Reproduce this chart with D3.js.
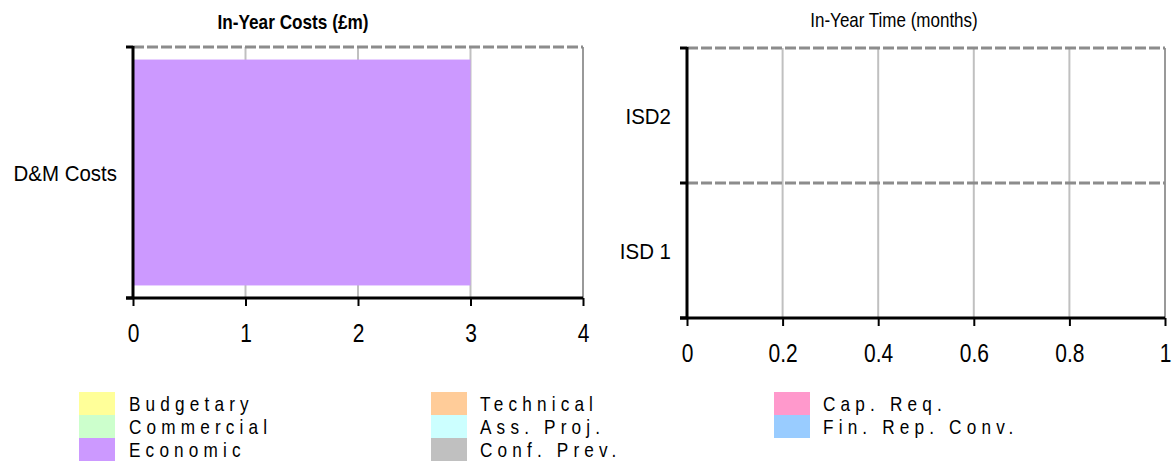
<!DOCTYPE html>
<html>
<head>
<meta charset="utf-8">
<script src="https://d3js.org/d3.v7.min.js"></script>
<style>
  body { margin: 0; background: #fff; }
  text { font-family: "Liberation Sans", Arial, sans-serif; fill: #000; }
</style>
</head>
<body>
<svg width="1174" height="462"></svg>
<script>
// ---- data ----
var costCategories = ["D&M Costs"];
var costValues = [3];
var costTicks = [0, 1, 2, 3, 4];

var timeCategories = ["ISD2", "ISD 1"];
var timeValues = [0, 0];
var timeTicks = [0, 0.2, 0.4, 0.6, 0.8, 1];

var legendNames = ["Budgetary", "Commercial", "Economic", "Technical", "Ass. Proj.", "Conf. Prev.", "Cap. Req.", "Fin. Rep. Conv."];
var legendColors = ["#FFFF99", "#CCFFCC", "#CC99FF", "#FFCC99", "#CCFFFF", "#C0C0C0", "#FF99CC", "#99CCFF"];

var svg = d3.select("svg");

// squeeze text horizontally (narrow face look)
function narrowText(g, x, y, str, size, anchor, weight, sx) {
  return g.append("text")
    .attr("transform", "translate(" + x + "," + y + ") scale(" + sx + ",1)")
    .attr("text-anchor", anchor)
    .style("font-size", size + "px")
    .style("font-weight", weight || "normal")
    .text(str);
}

function drawPanel(opt) {
  var g = svg.append("g");
  var x = d3.scaleLinear().domain(opt.domain).range([opt.left, opt.right]);
  var y = d3.scaleBand().domain(opt.cats).range([opt.top, opt.bottom])
    .paddingInner(0.1).paddingOuter(0.05);
  var step = (opt.bottom - opt.top) / opt.cats.length;

  // vertical gridlines
  g.selectAll(".grid").data(opt.ticks.slice(1, -1)).enter().append("line")
    .attr("x1", function(d) { return x(d); }).attr("x2", function(d) { return x(d); })
    .attr("y1", opt.top).attr("y2", opt.bottom)
    .attr("stroke", "#c0c0c0").attr("stroke-width", 2);

  // right border
  g.append("line")
    .attr("x1", x(opt.domain[1])).attr("x2", x(opt.domain[1]))
    .attr("y1", opt.top).attr("y2", opt.bottom)
    .attr("stroke", "#999").attr("stroke-width", 2);

  // bars
  g.selectAll(".bar").data(opt.values).enter().append("rect")
    .attr("x", x(0))
    .attr("y", function(d, i) { return y(opt.cats[i]); })
    .attr("width", function(d) { return x(d) - x(0); })
    .attr("height", y.bandwidth())
    .attr("fill", opt.color);

  // dashed category separators
  var seps = d3.range(opt.cats.length).map(function(i) { return opt.top + i * step; });
  g.selectAll(".sep").data(seps).enter().append("line")
    .attr("x1", opt.left).attr("x2", opt.right)
    .attr("y1", function(d) { return d; }).attr("y2", function(d) { return d; })
    .attr("stroke", "#8c8c8c").attr("stroke-width", 3)
    .attr("stroke-dasharray", "11,3");

  // x axis
  var xa = g.append("g").attr("transform", "translate(0," + opt.bottom + ")")
    .call(d3.axisBottom(x).tickValues(opt.ticks).tickSize(8).tickFormat(d3.format("")));
  xa.select(".domain").attr("stroke-width", 3).attr("d", "M" + (opt.left - 7) + ",0H" + opt.right);
  xa.selectAll(".tick line").attr("stroke-width", 2);
  xa.selectAll(".tick text").remove();
  xa.selectAll(".tick").each(function(d) {
    narrowText(d3.select(this), 0, 44, d, 25, "middle", "normal", 0.84);
  });

  // y axis line with ticks at band boundaries
  var bounds = d3.range(opt.cats.length + 1).map(function(i) { return opt.top + i * step; });
  g.append("line").attr("x1", opt.left).attr("x2", opt.left)
    .attr("y1", opt.top - 1).attr("y2", opt.bottom)
    .attr("stroke", "#000").attr("stroke-width", 3);
  g.selectAll(".ytick").data(bounds).enter().append("line")
    .attr("x1", opt.left - 7).attr("x2", opt.left)
    .attr("y1", function(d) { return d; }).attr("y2", function(d) { return d; })
    .attr("stroke", "#000").attr("stroke-width", 3);
  opt.cats.forEach(function(c) {
    narrowText(g, opt.left - 16, y(c) + y.bandwidth() / 2 + 8, c, 22, "end", "normal", 0.93);
  });

  narrowText(g, opt.titleX, opt.titleY, opt.title, 20, "middle", opt.titleWeight, opt.titleScale);
}

drawPanel({
  cats: costCategories, values: costValues, ticks: costTicks, domain: [0, 4],
  left: 133, right: 583, top: 47, bottom: 298, color: "#CC99FF",
  title: "In-Year Costs (£m)", titleX: 293, titleY: 29, titleScale: 0.86, titleWeight: "bold"
});

drawPanel({
  cats: timeCategories, values: timeValues, ticks: timeTicks, domain: [0, 1],
  left: 687, right: 1165, top: 48, bottom: 318, color: "#CC99FF",
  title: "In-Year Time (months)", titleX: 894, titleY: 27, titleScale: 0.85, titleWeight: "normal"
});

// legend
var cols = [{sw: 79, tx: 129}, {sw: 431, tx: 480}, {sw: 774, tx: 823}];
var leg = svg.append("g");
legendNames.forEach(function(name, i) {
  var c = cols[Math.floor(i / 3)], r = i % 3;
  leg.append("rect")
    .attr("x", c.sw).attr("y", 392 + r * 23)
    .attr("width", 36).attr("height", 23)
    .attr("fill", legendColors[i]);
  var t = narrowText(leg, c.tx, 411 + r * 23, name, 20, "start", "normal", 0.86);
  t.style("letter-spacing", "6px");
});
</script>
</body>
</html>
